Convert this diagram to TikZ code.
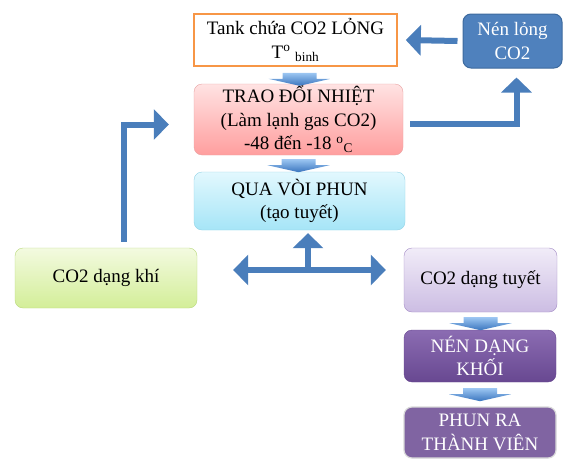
\documentclass[tikz,border=0pt]{standalone}
\usepackage{fontspec}
\setmainfont{Liberation Serif}
\usepackage{xcolor}
\usepackage{tikz}
\usetikzlibrary{positioning}
\usetikzlibrary{calc}
\usetikzlibrary{arrows.meta}

\definecolor{flowblue}{HTML}{4A7EBB}
\definecolor{tankorange}{HTML}{F79646}
\definecolor{nenblue}{HTML}{4F81BD}
\definecolor{nenborder}{HTML}{3D6A9E}
\definecolor{pinktop}{HTML}{FFE3E3}
\definecolor{pinkbot}{HTML}{FF9E9E}
\definecolor{pinkline}{HTML}{E8A3A3}
\definecolor{cyantop}{HTML}{E2F8FE}
\definecolor{cyanbot}{HTML}{A6E5F7}
\definecolor{cyanline}{HTML}{93D3E6}
\definecolor{greentop}{HTML}{F3FAE0}
\definecolor{greenbot}{HTML}{D3EE98}
\definecolor{greenline}{HTML}{B9D97C}
\definecolor{lilactop}{HTML}{F1ECF8}
\definecolor{lilacbot}{HTML}{CCBDE3}
\definecolor{lilacline}{HTML}{A58DC6}
\definecolor{purpletop}{HTML}{8B6CB2}
\definecolor{purplebot}{HTML}{684891}
\definecolor{purple}{HTML}{8064A2}
\definecolor{chevtop}{HTML}{9CC6F2}
\definecolor{chevbot}{HTML}{3A75BE}

\tikzset{
  stage/.style={rectangle, rounded corners=8pt, inner sep=0pt, align=center,
    font=\fontsize{19}{23.5}\selectfont},
  flow/.style={draw=flowblue, line width=6pt, -{Triangle[width=30pt,length=15pt]}},
  flowboth/.style={draw=flowblue, line width=6pt,
    {Triangle[width=30pt,length=15pt]}-{Triangle[width=30pt,length=15pt]}},
  chevron/.pic={
    \shade[top color=chevtop, bottom color=chevbot]
      (-17,0) -- (17,0) -- (17,6) -- (31,6) -- (0,13) -- (-31,6) -- (-17,6) -- cycle;
  }
}

\begin{document}
\begin{tikzpicture}[x=1pt, y=-1pt]
  \useasboundingbox (0,0) rectangle (584,464);

  % top row
  \node[stage, rounded corners=0pt, draw=tankorange, line width=1.6pt, fill=white,
        minimum width=203pt, minimum height=52pt] (tank) at (295.5,40)
        {Tank chứa CO2 LỎNG\\T\textsuperscript{o} \textsubscript{binh}};
  \node[stage, draw=nenborder, line width=1pt, fill=nenblue, text=white,
        minimum width=99pt, minimum height=54pt] (nenlong) at (512.5,41)
        {Nén lỏng\\CO2};

  % middle column
  \node[stage, draw=pinkline, top color=pinktop, bottom color=pinkbot,
        minimum width=209pt, minimum height=71pt] (traodoi) at (298.5,119.5)
        {TRAO ĐỔI NHIỆT\\(Làm lạnh gas CO2)\\-48 đến -18 \textsuperscript{o}\textsubscript{C}};
  \node[stage, draw=cyanline, top color=cyantop, bottom color=cyanbot,
        minimum width=211pt, minimum height=58pt] (voiphun) at (299.5,201)
        {QUA VÒI PHUN\\(tạo tuyết)};

  % bottom row
  \node[stage, draw=greenline, top color=greentop, bottom color=greenbot,
        minimum width=182pt, minimum height=60pt] (khi) at (106,278)
        {CO2 dạng khí};
  \node[stage, draw=lilacline, top color=lilactop, bottom color=lilacbot,
        minimum width=153pt, minimum height=64pt] (tuyet) at (480.5,280)
        {CO2 dạng tuyết};
  \node[stage, draw=purplebot, top color=purpletop, bottom color=purplebot, text=white,
        minimum width=152pt, minimum height=52pt] (khoi) at (480,356)
        {NÉN DẠNG\\KHỐI};
  \node[stage, draw=white!85!black, line width=1.2pt, fill=purple, text=white,
        minimum width=152pt, minimum height=51pt] (vien) at (480,432.5)
        {PHUN RA\\THÀNH VIÊN};

  % small down arrows
  \pic at ([xshift=4pt,yshift=-6pt]tank.south) {chevron};
  \pic at ([yshift=-4pt]traodoi.south) {chevron};
  \pic at ([yshift=-5pt]tuyet.south) {chevron};
  \pic at ([yshift=-6pt]khoi.south) {chevron};

  % connectors
  \draw[flow] ([xshift=-5pt]nenlong.west) -- ([xshift=8pt]tank.east);
  \draw[flow] ([xshift=7pt,yshift=-4pt]traodoi.east) -| ([xshift=4pt,yshift=-9pt]nenlong.south);
  \draw[flow] ([xshift=18pt,yshift=6pt]khi.north) |- ([xshift=-25pt,yshift=-5pt]traodoi.west);

  \coordinate (nga) at (308,270);
  \draw[flowboth] ([xshift=36pt]khi.east |- nga) -- ([xshift=-18pt]tuyet.west |- nga);
  \draw[flow] ([yshift=3pt]nga) -- ([yshift=-3pt]voiphun.south -| nga);
\end{tikzpicture}
\end{document}
